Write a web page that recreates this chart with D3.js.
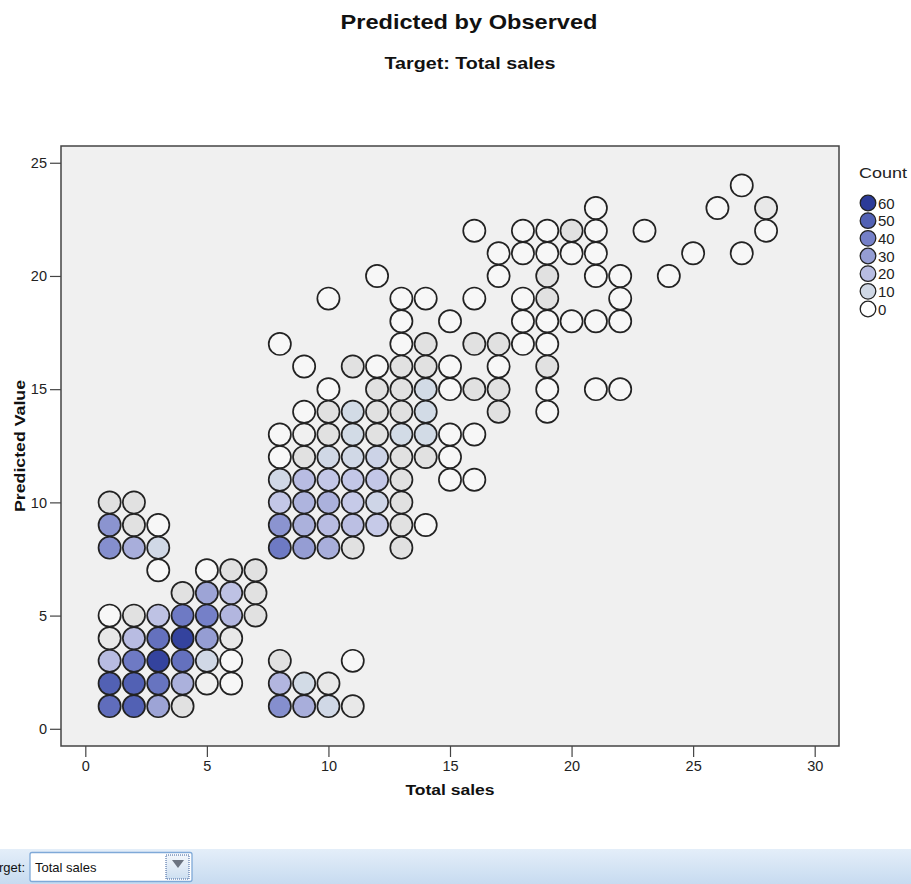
<!DOCTYPE html>
<html>
<head>
<meta charset="utf-8">
<script src="https://cdn.jsdelivr.net/npm/d3@7"></script>
<style>
  html, body { margin: 0; padding: 0; background: #ffffff; overflow: hidden; }
  svg { display: block; font-family: "Liberation Sans", Arial, sans-serif; }
</style>
</head>
<body>
<svg id="chart" width="911" height="884"></svg>
<script>
// ---------------- DATA ----------------
const titleText = "Predicted by Observed";
const subtitleText = "Target: Total sales";
const xLabel = "Total sales";
const yLabel = "Predicted Value";
const legendTitle = "Count";
const xTicks = [0, 5, 10, 15, 20, 25, 30];
const yTicks = [0, 5, 10, 15, 20, 25];
const legendValues = [60, 50, 40, 30, 20, 10, 0];

// observed (Total sales) values of each cell
const observed = [
  1,2,3,4, 8,9,10,11,
  1,2,3,4,5,6, 8,9,10,
  1,2,3,4,5,6, 8,11,
  1,2,3,4,5,6,
  1,2,3,4,5,6,7,
  4,5,6,7,
  3,5,6,7,
  1,2,3, 8,9,10,11,13,
  1,2,3, 8,9,10,11,12,13,14,
  1,2, 8,9,10,11,12,13,
  8,9,10,11,12,13,15,16,
  8,9,10,11,12,13,14,15,
  8,9,10,11,12,13,14,15,16,
  9,10,11,12,13,14,17,19,
  10,12,13,14,15,16,17,19,21,22,
  9,11,12,13,14,15,17,19,
  8,13,14,16,17,18,19,
  13,15,18,19,20,21,22,
  10,13,14,16,18,19,22,
  12,17,19,21,22,24,
  17,18,19,20,21,25,27,
  16,18,19,20,21,23,28,
  21,26,28,
  27
];
// predicted values of each cell
const predicted = [
  1,1,1,1, 1,1,1,1,
  2,2,2,2,2,2, 2,2,2,
  3,3,3,3,3,3, 3,3,
  4,4,4,4,4,4,
  5,5,5,5,5,5,5,
  6,6,6,6,
  7,7,7,7,
  8,8,8, 8,8,8,8,8,
  9,9,9, 9,9,9,9,9,9,9,
  10,10, 10,10,10,10,10,10,
  11,11,11,11,11,11,11,11,
  12,12,12,12,12,12,12,12,
  13,13,13,13,13,13,13,13,13,
  14,14,14,14,14,14,14,14,
  15,15,15,15,15,15,15,15,15,15,
  16,16,16,16,16,16,16,16,
  17,17,17,17,17,17,17,
  18,18,18,18,18,18,18,
  19,19,19,19,19,19,19,
  20,20,20,20,20,20,
  21,21,21,21,21,21,21,
  22,22,22,22,22,22,22,
  23,23,23,
  24
];
// number of records in each cell
const counts = [
  46,50,28,4, 35,25,10,3,
  50,50,44,24,2,1, 22,9,3,
  20,42,58,45,10,1, 4,1,
  3,20,45,58,30,3,
  1,4,18,42,40,22,4,
  4,28,18,4,
  1,1,4,4,
  35,25,10, 42,30,25,4,4,
  33,4,1, 33,24,20,19,15,4,1,
  4,4, 16,23,24,15,11,4,
  10,20,16,16,16,4,1,1,
  1,4,10,10,12,4,4,1,
  1,2,4,9,4,9,9,1,1,
  1,4,9,4,4,9,4,1,
  1,4,4,9,1,4,4,1,1,1,
  1,4,1,4,4,1,1,4,
  1,1,4,4,4,1,1,
  1,1,1,1,1,1,1,
  1,1,1,1,1,4,1,
  1,1,4,1,1,1,
  1,1,1,1,1,1,1,
  1,1,1,4,1,1,1,
  1,1,3,
  1
];

// colour ramp stops (count -> colour)
const rampCounts  = [0, 1, 4, 9, 15, 20, 25, 30, 40, 50, 60];
const rampColours = ["#ffffff", "#f7f7f7", "#e1e1e1", "#d2dbe6", "#c6cae8",
                     "#b8bce2", "#a8aedb", "#959dd3", "#7580c8", "#5261b4", "#2c3b98"];

// ---------------- CHART ----------------
const svg = d3.select("#chart");

const plot = { left: 61, right: 839, top: 146, bottom: 746 };

const x = d3.scaleLinear().domain([-1, 31]).range([plot.left, plot.right]);
const y = d3.scaleLinear().domain([-0.76, 25.74]).range([plot.bottom, plot.top]);
const colour = d3.scaleLinear().domain(rampCounts).range(rampColours).interpolate(d3.interpolateRgb);

// title
svg.append("text")
  .attr("x", 469).attr("y", 29)
  .attr("text-anchor", "middle")
  .attr("font-size", 21).attr("font-weight", "bold").attr("fill", "#111")
  .attr("textLength", 257).attr("lengthAdjust", "spacingAndGlyphs")
  .text(titleText);

svg.append("text")
  .attr("x", 470).attr("y", 69)
  .attr("text-anchor", "middle")
  .attr("font-size", 16).attr("font-weight", "bold").attr("fill", "#111")
  .attr("textLength", 171).attr("lengthAdjust", "spacingAndGlyphs")
  .text(subtitleText);

// plot background
svg.append("rect")
  .attr("x", plot.left).attr("y", plot.top)
  .attr("width", plot.right - plot.left).attr("height", plot.bottom - plot.top)
  .attr("fill", "#f0f0f0").attr("stroke", "none");

// points
const cells = observed.map((o, i) => ({ o, p: predicted[i], c: counts[i] }));
svg.append("g").selectAll("circle")
  .data(cells)
  .join("circle")
  .attr("cx", d => x(d.o))
  .attr("cy", d => y(d.p))
  .attr("r", 11.1)
  .attr("fill", d => colour(d.c))
  .attr("stroke", "#222")
  .attr("stroke-width", 1.7);

// frame
svg.append("rect")
  .attr("x", plot.left).attr("y", plot.top)
  .attr("width", plot.right - plot.left).attr("height", plot.bottom - plot.top)
  .attr("fill", "none").attr("stroke", "#444").attr("stroke-width", 1.5);

// axes
const xAxis = d3.axisBottom(x).tickValues(xTicks).tickSize(11).tickSizeOuter(0).tickPadding(4);
const gx = svg.append("g").attr("transform", `translate(0,${plot.bottom})`).call(xAxis);
gx.select(".domain").remove();
gx.selectAll(".tick line").attr("stroke", "#444").attr("stroke-width", 1.2);
gx.selectAll(".tick text").attr("font-size", 14.5).attr("fill", "#222")
  .attr("font-family", "'Liberation Sans', Arial, sans-serif");

const yAxis = d3.axisLeft(y).tickValues(yTicks).tickSize(11).tickSizeOuter(0).tickPadding(3);
const gy = svg.append("g").attr("transform", `translate(${plot.left},0)`).call(yAxis);
gy.select(".domain").remove();
gy.selectAll(".tick line").attr("stroke", "#444").attr("stroke-width", 1.2);
gy.selectAll(".tick text").attr("font-size", 14.5).attr("fill", "#222")
  .attr("font-family", "'Liberation Sans', Arial, sans-serif");

// axis titles
svg.append("text")
  .attr("x", (plot.left + plot.right) / 2).attr("y", 795)
  .attr("text-anchor", "middle")
  .attr("font-size", 14).attr("font-weight", "bold").attr("fill", "#111")
  .attr("textLength", 89).attr("lengthAdjust", "spacingAndGlyphs")
  .text(xLabel);

svg.append("text")
  .attr("transform", `translate(25,${(plot.top + plot.bottom) / 2}) rotate(-90)`)
  .attr("text-anchor", "middle")
  .attr("font-size", 14).attr("font-weight", "bold").attr("fill", "#111")
  .attr("textLength", 132).attr("lengthAdjust", "spacingAndGlyphs")
  .text(yLabel);

// legend
const lg = svg.append("g");
lg.append("text")
  .attr("x", 859).attr("y", 178)
  .attr("font-size", 15).attr("fill", "#222")
  .attr("textLength", 48).attr("lengthAdjust", "spacingAndGlyphs")
  .text(legendTitle);
const ly = d3.scalePoint().domain(legendValues).range([203, 309]);
const items = lg.selectAll("g.item").data(legendValues).join("g").attr("class", "item")
  .attr("transform", d => `translate(868,${ly(d)})`);
items.append("circle")
  .attr("r", 7.8)
  .attr("fill", d => colour(d))
  .attr("stroke", "#222").attr("stroke-width", 1.3);
items.append("text")
  .attr("x", 10).attr("y", 5.5)
  .attr("font-size", 15).attr("fill", "#222")
  .text(d => d);

// bottom selector bar
const defs = svg.append("defs");
const grad = defs.append("linearGradient").attr("id", "barGrad")
  .attr("x1", 0).attr("y1", 0).attr("x2", 0).attr("y2", 1);
grad.append("stop").attr("offset", "0%").attr("stop-color", "#e4eef9");
grad.append("stop").attr("offset", "100%").attr("stop-color", "#c7dbf0");
svg.append("rect").attr("x", 0).attr("y", 849).attr("width", 911).attr("height", 35)
  .attr("fill", "url(#barGrad)");

svg.append("text")
  .attr("x", 25).attr("y", 872)
  .attr("text-anchor", "end")
  .attr("font-size", 13).attr("fill", "#111")
  .text("Target:");

svg.append("rect")
  .attr("x", 30).attr("y", 852.5).attr("width", 162).attr("height", 29).attr("rx", 2)
  .attr("fill", "#ffffff").attr("stroke", "#7fa9d8").attr("stroke-width", 1.3);
svg.append("text")
  .attr("x", 35).attr("y", 872)
  .attr("font-size", 13).attr("fill", "#111")
  .text("Total sales");

const btnGrad = defs.append("linearGradient").attr("id", "btnGrad")
  .attr("x1", 0).attr("y1", 0).attr("x2", 0).attr("y2", 1);
btnGrad.append("stop").attr("offset", "0%").attr("stop-color", "#f2f6fb");
btnGrad.append("stop").attr("offset", "100%").attr("stop-color", "#cddff1");
svg.append("rect")
  .attr("x", 166).attr("y", 855).attr("width", 23).attr("height", 24)
  .attr("fill", "url(#btnGrad)").attr("stroke", "#3a5f9a").attr("stroke-width", 1)
  .attr("stroke-dasharray", "1,1");
svg.append("path")
  .attr("d", "M172,860 L184,860 L178,868 Z")
  .attr("fill", "#6b7380");
</script>
</body>
</html>
